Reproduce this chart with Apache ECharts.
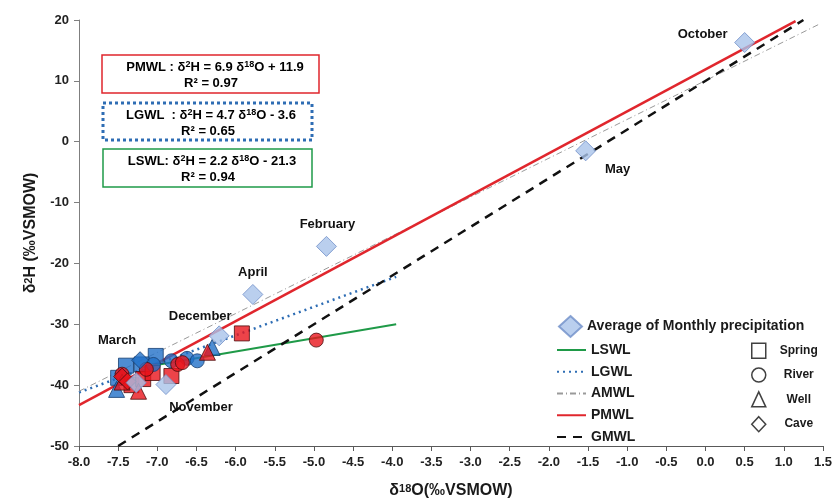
<!DOCTYPE html>
<html><head><meta charset="utf-8">
<script src="https://cdn.jsdelivr.net/npm/echarts/dist/echarts.min.js"></script>
<style>html,body{margin:0;padding:0;background:#fff}#c{width:835px;height:504px}</style>
</head><body><div id="c"></div>
<script>
// ---- data ----
const months    = ['October','May','February','April','December','March','November'];
const monthO18  = [0.50, -1.53, -4.84, -5.78, -6.21, -7.27, -6.89];
const monthH2   = [16.3, -1.5, -17.2, -25.1, -31.9, -39.6, -39.9];

const springBlue = [[-7.50,-38.8],[-7.40,-36.8],[-7.02,-35.2],[-7.20,-36.6]];
const springRed  = [[-7.33,-40.0],[-7.18,-39.0],[-6.82,-38.5],[-5.92,-31.5],[-7.06,-38.0]];
const riverBlue  = [[-6.82,-36.0],[-6.62,-35.6],[-6.49,-36.0],[-7.05,-36.6]];
const riverRed   = [[-7.14,-37.4],[-6.74,-36.6],[-6.68,-36.3],[-4.97,-32.6],[-7.45,-38.2]];
const wellBlue   = [[-7.52,-40.7],[-6.30,-33.8]];
const wellRed    = [[-7.24,-41.0],[-6.36,-34.6],[-7.45,-39.5]];
const caveBlue   = [[-7.22,-35.9]];
const caveRed    = [[-7.45,-38.6],[-7.38,-39.4]];

const lineLSWL = [[-7.20,-37.1],[-3.95,-30.0]];
const lineLGWL = [[-8.00,-41.2],[-3.95,-22.2]];
const lineAMWL = [[-8.00,-41.0],[1.45,19.3]];
const linePMWL = [[-8.00,-43.3],[1.15,19.8]];
const lineGMWL = [[-7.50,-50.0],[1.25,20.0]];

// ---- styles ----
const F = '"Liberation Sans", Arial, sans-serif';
const BLUE = '#2270c8', BLUE_B = '#173f70';
const RED = '#e8141c', RED_B = '#4a0c0c';
const labelOffsets = {
  October:[-42,-8], May:[32,19], February:[1,-22], April:[0,-22],
  December:[-19,-19], March:[-19,-42], November:[35,23]
};

function pts(arr, color, border){
  return arr.map(p => ({value:p, itemStyle:{color:color, borderColor:border, borderWidth:1}}));
}
function rich(size){
  return {
    b:{fontSize:size, fontWeight:'bold', fontFamily:F, color:'#1a1a1a'},
    s:{fontSize:Math.round(size*0.68), fontWeight:'bold', fontFamily:F, color:'#1a1a1a', verticalAlign:'top'}
  };
}

const monthData = months.map((m,i)=>({
  name:m, value:[monthO18[i], monthH2[i]],
  label:{show:true, position:'inside', offset:labelOffsets[m], formatter:m,
         fontSize:13, fontWeight:'bold', fontFamily:F, color:'#111', opacity:1, textBorderWidth:0}
}));

function lineSeries(name, data, color, width, type){
  return {name, type:'line', data, symbol:'none', z:2, silent:true,
          lineStyle:{color, width, type}, itemStyle:{color}};
}

const chart = echarts.init(document.getElementById('c'), null, {renderer:'canvas'});
const axisTxt = {fontSize:13, fontWeight:'bold', fontFamily:F, color:'#222'};

const option = {
  animation:false,
  backgroundColor:'#fff',
  grid:{left:79, right:6, top:20, bottom:57, containLabel:false},
  xAxis:{
    type:'value', min:-8, max:1.5, interval:0.5,
    axisLine:{show:true, onZero:false, lineStyle:{color:'#595959', width:1}},
    axisTick:{show:true, length:5, lineStyle:{color:'#595959'}},
    splitLine:{show:false},
    axisLabel:{...axisTxt, margin:10, formatter:v=>v.toFixed(1)},
    name:'{b|δ}{s|18}{b|O(‰VSMOW)}', nameLocation:'middle', nameGap:37,
    nameTextStyle:{rich:rich(16)}
  },
  yAxis:{
    type:'value', min:-50, max:20, interval:10,
    axisLine:{show:true, onZero:false, lineStyle:{color:'#7f7f7f', width:1}},
    axisTick:{show:true, length:5, lineStyle:{color:'#7f7f7f'}},
    splitLine:{show:false},
    axisLabel:{...axisTxt, margin:10},
    name:'{b|δ}{s|2}{b|H (‰VSMOW)}', nameLocation:'middle', nameGap:40,
    nameTextStyle:{rich:rich(16)}
  },
  legend:[
    {data:['Average of Monthly precipitation'], orient:'vertical', left:553, top:310,
     itemWidth:23, itemHeight:21, selectedMode:false,
     textStyle:{fontSize:14, fontWeight:'bold', fontFamily:F, color:'#1a1a1a'}},
    {data:['LSWL','LGWL','AMWL','PMWL','GMWL'], orient:'vertical', left:551, top:338,
     itemWidth:29, itemHeight:14, itemGap:7.75, selectedMode:false,
     itemStyle:{opacity:0},
     textStyle:{fontSize:14, fontWeight:'bold', fontFamily:F, color:'#1a1a1a'}},
    {data:[
      {name:'Spring', icon:'rect', itemStyle:{color:'#fff', borderColor:'#111', borderWidth:1.5}},
      {name:'River', icon:'circle', itemStyle:{color:'#fff', borderColor:'#111', borderWidth:1.5}},
      {name:'Well', icon:'triangle', itemStyle:{color:'#fff', borderColor:'#111', borderWidth:1.5}},
      {name:'Cave', icon:'diamond', itemStyle:{color:'#fff', borderColor:'#111', borderWidth:1.5}}
     ], orient:'vertical', left:746, top:337.5, itemWidth:14, itemHeight:15, itemGap:8.3,
     selectedMode:false,
     formatter:n=>'{c|'+n+'}',
     textStyle:{rich:{c:{width:56, align:'center', fontSize:12, fontWeight:'bold', fontFamily:F, color:'#1a1a1a'}}}}
  ],
  graphic:[
    {type:'rect', shape:{x:102, y:55, width:217, height:38}, style:{fill:'#fff', stroke:'#e0262d', lineWidth:1.5}, z:10},
    {type:'text', x:215, y:67, style:{text:'{b|PMWL : δ}{s|2}{b|H = 6.9 δ}{s|18}{b|O + 11.9}', rich:rich(13), align:'center', verticalAlign:'middle'}, z:11},
    {type:'text', x:211, y:83, style:{text:'{b|R² = 0.97}', rich:rich(13), align:'center', verticalAlign:'middle'}, z:11},

    {type:'rect', shape:{x:103, y:103, width:209, height:37}, style:{fill:'#fff', stroke:'#2e6db4', lineWidth:3, lineDash:[3,3]}, z:10},
    {type:'text', x:211, y:115, style:{text:'{b|LGWL  : δ}{s|2}{b|H = 4.7 δ}{s|18}{b|O - 3.6}', rich:rich(13), align:'center', verticalAlign:'middle'}, z:11},
    {type:'text', x:208, y:131, style:{text:'{b|R² = 0.65}', rich:rich(13), align:'center', verticalAlign:'middle'}, z:11},

    {type:'rect', shape:{x:103, y:149, width:209, height:38}, style:{fill:'#fff', stroke:'#1f9a48', lineWidth:1.5}, z:10},
    {type:'text', x:212, y:161, style:{text:'{b|LSWL: δ}{s|2}{b|H = 2.2 δ}{s|18}{b|O - 21.3}', rich:rich(13), align:'center', verticalAlign:'middle'}, z:11},
    {type:'text', x:208, y:177, style:{text:'{b|R² = 0.94}', rich:rich(13), align:'center', verticalAlign:'middle'}, z:11}
  ],
  series:[
    lineSeries('LSWL', lineLSWL, '#1f9a48', 2, 'solid'),
    lineSeries('LGWL', lineLGWL, '#2e6db4', 2.5, [2,4]),
    lineSeries('AMWL', lineAMWL, '#9a9a9a', 1, [6,3,1,3]),
    lineSeries('PMWL', linePMWL, '#e0262d', 2.5, 'solid'),
    lineSeries('GMWL', lineGMWL, '#111', 2.5, [9,7]),
    {name:'Spring', type:'scatter', symbol:'rect', symbolSize:15, z:3,
     data:pts(springBlue,BLUE,BLUE_B).concat(pts(springRed,RED,RED_B)), itemStyle:{color:'#fff', borderColor:'#111'}},
    {name:'River', type:'scatter', symbol:'circle', symbolSize:14, z:3,
     data:pts(riverBlue,BLUE,BLUE_B).concat(pts(riverRed,RED,RED_B)), itemStyle:{color:'#fff', borderColor:'#111'}},
    {name:'Well', type:'scatter', symbol:'triangle', symbolSize:16, z:3,
     data:pts(wellBlue,BLUE,BLUE_B).concat(pts(wellRed,RED,RED_B)), itemStyle:{color:'#fff', borderColor:'#111'}},
    {name:'Cave', type:'scatter', symbol:'diamond', symbolSize:17, z:3,
     data:pts(caveBlue,BLUE,BLUE_B).concat(pts(caveRed,RED,RED_B)), itemStyle:{color:'#fff', borderColor:'#111'}},
    {name:'Average of Monthly precipitation', type:'scatter', symbol:'diamond', symbolSize:20, z:4,
     itemStyle:{color:'#a9c3ea', borderColor:'#6f8fc8', borderWidth:1},
     data:monthData}
  ]
};
chart.setOption(option);
</script></body></html>
